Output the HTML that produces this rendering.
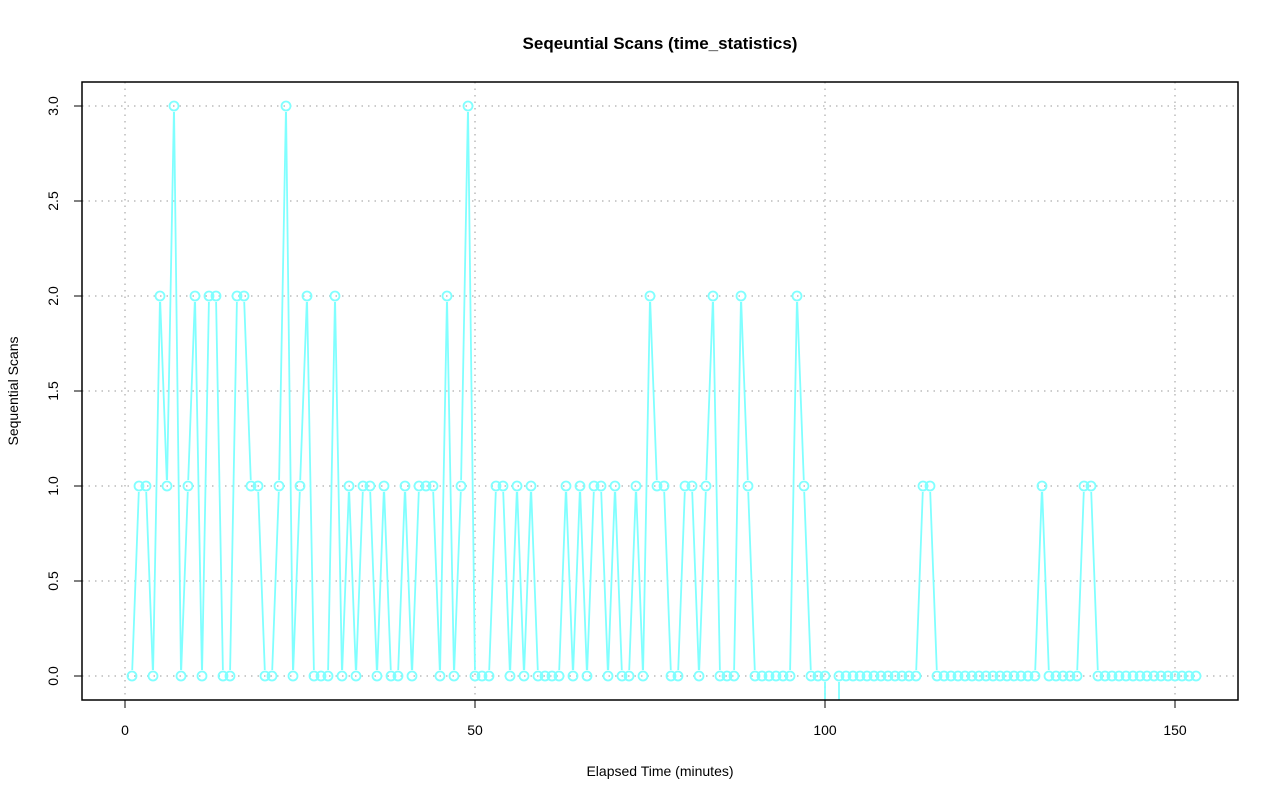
<!DOCTYPE html>
<html><head><meta charset="utf-8"><style>
html,body{margin:0;padding:0;background:#fff;width:1280px;height:801px;overflow:hidden;}
svg{display:block;font-family:"Liberation Sans",Arial,sans-serif;}
</style></head><body>
<svg id="chart" width="1280" height="801" viewBox="0 0 1280 801" xmlns="http://www.w3.org/2000/svg">
<defs><clipPath id="plotclip"><rect x="82" y="82" width="1156" height="618"/></clipPath></defs>
<text x="660" y="49" text-anchor="middle" font-size="17" font-weight="bold">Seqeuntial Scans (time_statistics)</text>
<text x="660" y="776" text-anchor="middle" font-size="14">Elapsed Time (minutes)</text>
<text transform="translate(18,391) rotate(-90)" text-anchor="middle" font-size="14">Sequential Scans</text>
<g id="grid"></g>
<g id="axes"></g>
<g id="series" clip-path="url(#plotclip)"></g>
<rect x="82" y="82" width="1156" height="618" fill="none" stroke="#000" stroke-width="1.5"/>
</svg>
<script>
const xTicks = [0, 50, 100, 150];
const yTicks = [0, 0.5, 1, 1.5, 2, 2.5, 3];
const yTickLabels = ["0.0","0.5","1.0","1.5","2.0","2.5","3.0"];
const values = [0,1,1,0,2,1,3,0,1,2,0,2,2,0,0,2,2,1,1,0,
0,1,3,0,1,2,0,0,0,2,0,1,0,1,1,0,1,0,0,1,
0,1,1,1,0,2,0,1,3,0,0,0,1,1,0,1,0,1,0,0,
0,0,1,0,1,0,1,1,0,1,0,0,1,0,2,1,1,0,0,1,
1,0,1,2,0,0,0,2,1,0,0,0,0,0,0,2,1,0,0,0,
-1000,0,0,0,0,0,0,0,0,0,0,0,0,1,1,0,0,0,0,0,
0,0,0,0,0,0,0,0,0,0,1,0,0,0,0,0,1,1,0,0,
0,0,0,0,0,0,0,0,0,0,0,0,0];
const NS = "http://www.w3.org/2000/svg";
const xs = v => 125 + (v) * 7;
const ys = v => 676 - v * 190;
function mk(tag, attrs, parent){const e=document.createElementNS(NS,tag);for(const k in attrs)e.setAttribute(k,attrs[k]);parent.appendChild(e);return e;}
const grid=document.getElementById('grid'), axes=document.getElementById('axes'), series=document.getElementById('series');
xTicks.forEach(t=>{
  const g=mk('line',{x1:xs(t),x2:xs(t),y1:82,y2:700,stroke:'#bbb','stroke-dasharray':'1.5 5','stroke-width':1.5},grid);
  
  
  const tk=mk('line',{x1:xs(t),x2:xs(t),y1:700,y2:708,stroke:'#000'},axes);
  
  
  const lb=mk('text',{x:xs(t),y:735,'text-anchor':'middle','font-size':14},axes);
  lb.textContent=t;
  
  
});
yTicks.forEach((t,i)=>{
  const g=mk('line',{x1:82,x2:1238,y1:ys(t),y2:ys(t),stroke:'#bbb','stroke-dasharray':'1.5 5','stroke-width':1.5},grid);
  
  
  const tk=mk('line',{x1:74,x2:82,y1:ys(t),y2:ys(t),stroke:'#000'},axes);
  
  
  const lb=mk('text',{transform:`translate(58,${ys(t)}) rotate(-90)`,'text-anchor':'middle','font-size':14},axes);
  lb.textContent=yTickLabels[i];
  
  
});
const r=4.5;
for(let i=0;i<values.length-1;i++){
  const x1=xs(i+1),y1=ys(values[i]),x2=xs(i+2),y2=ys(values[i+1]);
  const dx=x2-x1,dy=y2-y1,L=Math.hypot(dx,dy);
  if(L<=2*r+1)continue;
  const ux=dx/L,uy=dy/L;
  const s=mk('line',{x1:x1+ux*(r+1.5),y1:y1+uy*(r+1.5),x2:x2-ux*(r+1.5),y2:y2-uy*(r+1.5),stroke:'#80ffff','stroke-width':1.8},series);
  
  
}
values.forEach((v,i)=>{
  const c=mk('circle',{cx:xs(i+1),cy:ys(v),r:r,fill:'none',stroke:'#80ffff','stroke-width':1.8},series);
  
  
});
</script>
</body></html>
